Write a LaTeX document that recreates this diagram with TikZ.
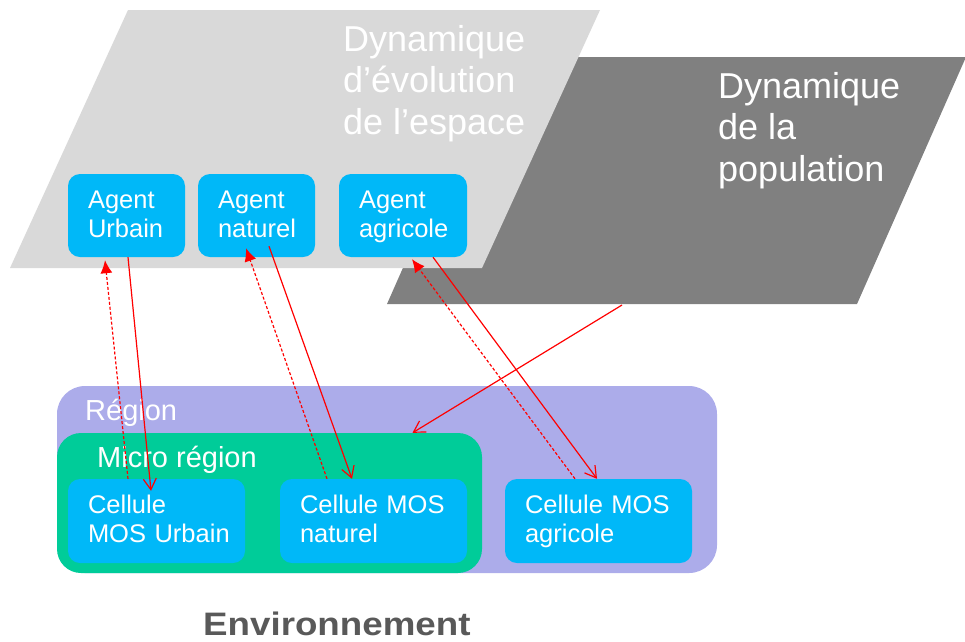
\documentclass[tikz,border=0pt]{standalone}
\usepackage{fontspec}
\setmainfont{Liberation Sans}
\usepackage{tikz}
\usetikzlibrary{calc,arrows.meta}
\definecolor{lgris}{RGB}{217,217,217}
\definecolor{dgris}{RGB}{128,128,128}
\definecolor{bleu}{RGB}{0,184,248}
\definecolor{lavande}{RGB}{172,172,234}
\definecolor{vert}{RGB}{0,204,153}
\definecolor{texte}{RGB}{89,89,89}
\newcommand{\ligne}[1]{\mbox{\rule[-7.5pt]{0pt}{29pt}#1}}
\tikzset{
  boite/.style={rectangle,rounded corners=12pt,fill=bleu,text=white,align=left,
    inner xsep=20pt,inner ysep=0pt,font=\fontsize{25.5}{29}\selectfont},
  zone/.style={rectangle,inner sep=0pt},
  titre/.style={anchor=north west,inner sep=0pt,text=white,align=left,
    font=\fontsize{36}{41.5}\selectfont},
  etiq/.style={anchor=base west,inner sep=0pt,text=white,font=\fontsize{29}{33}\selectfont},
  fleche/.style={red,line width=1.2pt,-{Straight Barb[length=11pt,width=13pt]}},
  retour/.style={red,line width=1.2pt,dash pattern=on 3pt off 2pt,-{Latex[length=13pt,width=12pt]}}
}
\begin{document}
\begin{tikzpicture}[x=1pt,y=-1pt]
              \useasboundingbox (0,0) rectangle (965,641);
              % les deux dynamiques
              \fill[dgris](387,304)--(496,57)--(966,57)--(857,304)--cycle;
              \fill[lgris](10,268)--(128,10)--(600,10)--(482,268)--cycle;
              \coordinate (popB) at (622,305);
              \node[titre] (dynE) at (343,25) {Dynamique\\d'évolution\\de l'espace};
              \node[titre] (dynP) at (718,72) {Dynamique\\de la\\population};
              % agents
              \node[boite,text width=77pt,minimum height=83pt](agU)at(126.5,215.5){\ligne{Agent}\\\ligne{Urbain}};
              \node[boite,text width=77pt,minimum height=83pt](agN)at(256.5,215.5){\ligne{Agent}\\\ligne{naturel}};
              \node[boite,text width=88pt,minimum height=83pt](agA)at(403,215.5){\ligne{Agent}\\\ligne{agricole}};
              % environnement
              \node[zone,fill=lavande,rounded corners=28pt,minimum width=660pt,minimum height=187pt](reg)at(387,479.5){};
              \node[zone,fill=vert,rounded corners=24pt,minimum width=425pt,minimum height=140pt](micro)at(269.5,503){};
              \node[etiq] (regT) at (85,420) {Région};
              \node[etiq] (microT) at (97,467) {Micro région};
              \node[boite,text width=137pt,minimum height=84pt](cellU)at(156.5,521){\ligne{Cellule}\\\ligne{MOS Urbain}};
              \node[boite,text width=147pt,minimum height=84pt](cellN)at(373.5,521){\ligne{Cellule MOS}\\\ligne{naturel}};
              \node[boite,text width=147pt,minimum height=84pt](cellA)at(598.5,521){\ligne{Cellule MOS}\\\ligne{agricole}};
              \node[anchor=base west,inner sep=0pt,text=texte,font=\fontsize{32.5}{36}\selectfont\bfseries](env)at(203,635){\scalebox{1.13}[1]{Environnement}};
              % fleches
              \draw[fleche]([xshift=1.5pt]agU.south)--([xshift=-5.5pt,yshift=-12pt]cellU.north);
              \draw[retour]([xshift=-28.5pt]cellU.north)--([xshift=-21.5pt,yshift=-3pt]agU.south);
              \draw[retour]([xshift=-46.5pt]cellN.north)--([xshift=-10.5pt,yshift=9pt]agN.south);
              \draw[fleche]([xshift=12.5pt,yshift=11pt]agN.south)--([xshift=-21.5pt]cellN.north);
              \draw[retour]([xshift=-23.5pt]cellA.north)--([xshift=9pt,yshift=-2pt]agA.south);
              \draw[fleche]([xshift=30pt]agA.south)--([xshift=-1.5pt]cellA.north);
              \draw[fleche](popB)--([xshift=143pt]micro.north);
            \end{tikzpicture}
\end{document}
